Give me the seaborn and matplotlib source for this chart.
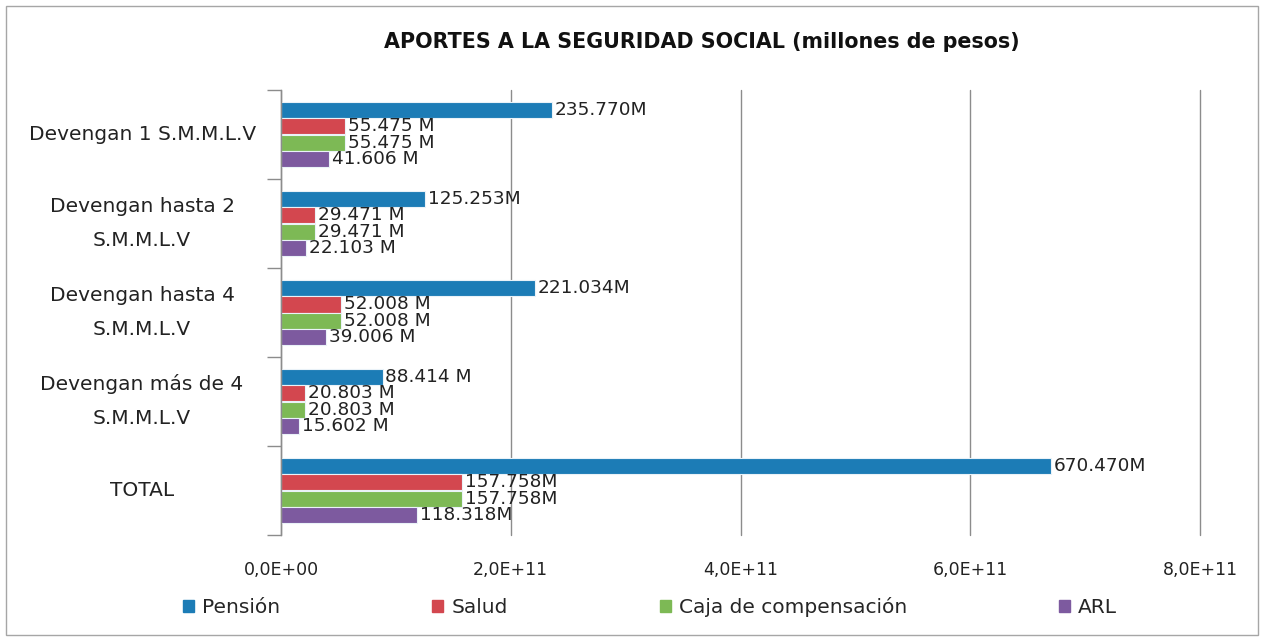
import matplotlib
matplotlib.use("Agg")
import matplotlib.pyplot as plt
import matplotlib.patches as mpatches
from matplotlib.ticker import FuncFormatter, MultipleLocator, FixedLocator
import seaborn as sns
import pandas as pd
import numpy as np

categories = ["Devengan 1 S.M.M.L.V", "Devengan hasta 2\nS.M.M.L.V", "Devengan hasta 4\nS.M.M.L.V",
              "Devengan más de 4\nS.M.M.L.V", "TOTAL"]
series = ["Pensión", "Salud", "Caja de compensación", "ARL"]
# values in millions of pesos
pension = [235770, 125253, 221034, 88414, 670470]
salud = [55475, 29471, 52008, 20803, 157758]
caja = [55475, 29471, 52008, 20803, 157758]
arl = [41606, 22103, 39006, 15602, 118318]
colors = ["#1C7CB6", "#D3474F", "#7DB955", "#7D5A9F"]

rows = []
for s, vals in zip(series, [pension, salud, caja, arl]):
    for c, v in zip(categories, vals):
        rows.append({"cat": c, "serie": s, "value": v * 1e6, "mill": v})
df = pd.DataFrame(rows)

sns.set_style("white")
plt.rcParams['font.family'] = ['DejaVu Sans']

fig = plt.figure(figsize=(12.64, 6.41), dpi=100)
ax = fig.add_axes([281/1264, 1-535/641, (1200-281)/1264, (535-90)/641])

sns.barplot(data=df, y="cat", x="value", hue="serie", orient="h", palette=colors, saturation=1,
            width=0.74, gap=0, ax=ax, edgecolor="#EAF2F8", linewidth=0.8, legend=False,
            hue_order=series, order=categories)

ax.set_xlim(0, 8e11)
ax.set_ylim(4.5, -0.5)
ax.xaxis.set_major_locator(MultipleLocator(2e11))
ax.xaxis.set_major_formatter(FuncFormatter(lambda x, p: f"{x:.1E}".replace(".", ",")))
ax.grid(axis="x", color="#8C8C8C", linewidth=1)
for gl in ax.get_xgridlines():
    gl.set_clip_on(False)
ax.set_axisbelow(True)
for sp in ["top", "right", "bottom"]:
    ax.spines[sp].set_visible(False)
ax.spines["left"].set_color("#8C8C8C")
ax.spines["left"].set_linewidth(1)
ax.tick_params(axis="x", length=0, pad=19, labelsize=12.5, labelcolor="#222222")
ax.yaxis.set_minor_locator(FixedLocator(np.arange(-0.5, 5, 1)))
ax.tick_params(axis="y", which="major", left=False, length=0, pad=100, labelsize=14.5, labelcolor="#222222")
ax.tick_params(axis="y", which="minor", left=True, length=10, color="#8C8C8C", width=1)
ax.set_xlabel("")
ax.set_ylabel("")
for lbl in ax.get_yticklabels():
    lbl.set_horizontalalignment("center")
    lbl.set_multialignment("center")
    lbl.set_verticalalignment("center")
    lbl.set_linespacing(2.0)

def fmt(v):
    s = f"{v:,}".replace(",", ".")
    return s + ("M" if v >= 100000 else " M")

for cont, vals in zip(ax.containers, [pension, salud, caja, arl]):
    ax.bar_label(cont, labels=[fmt(v) for v in vals], padding=2, fontsize=13.3, color="#222222")

fig.text(702/1264, 1-42/641, "APORTES A LA SEGURIDAD SOCIAL (millones de pesos)", ha="center", va="center",
         fontsize=14.9, fontweight="bold", color="#111111")

handles = [mpatches.Patch(color=c, label=s) for c, s in zip(colors, series)]
fig.legend(handles=handles, loc="center", bbox_to_anchor=(650/1264, 1-607/641), ncol=4, frameon=False,
           fontsize=14.5, handlelength=0.55, handleheight=0.55, handletextpad=0.4, columnspacing=7.55)

fig.patches.append(mpatches.Rectangle((6/1264, 6/641), 1252/1264, 629/641, transform=fig.transFigure,
                                      fill=False, edgecolor="#A6A6A6", linewidth=1))

fig.savefig("out.png", dpi=100)
